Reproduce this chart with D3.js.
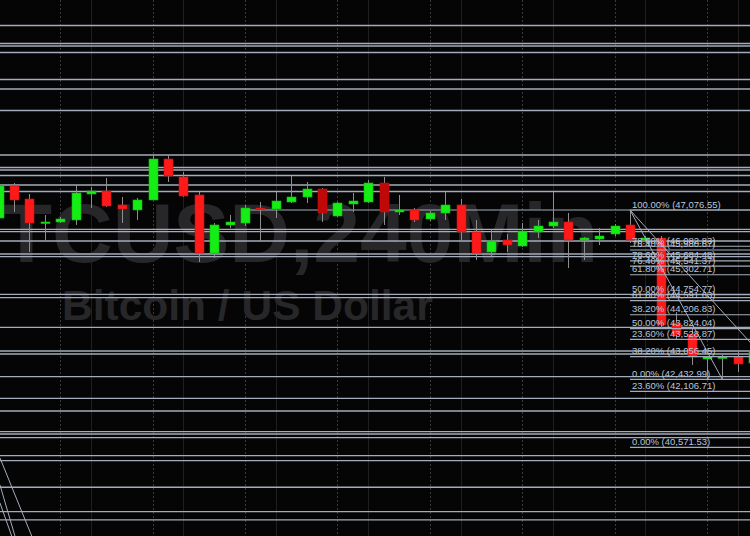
<!DOCTYPE html>
<html><head><meta charset="utf-8">
<script src="https://cdn.jsdelivr.net/npm/d3@7"></script>
<style>html,body{margin:0;padding:0;background:#050506;overflow:hidden}</style>
</head><body><svg id="c" width="750" height="536"></svg>
<script>
// ---- data (4h bars, BTCUSD) ----
const bars   = [1,2,3,4,5,6,7,8,9,10,11,12,13,14,15,16,17,18,19,20,21,22,23,24,25,26,27,28,29,30,31,32,33,34,35,36,37,38,39,40,41,42,43,44,45,46,47,48,49,50];
const opens  = [46857,47734,47378,46720,46748,46803,47515,47597,47214,47077,47351,48474,47981,47488,45898,46666,46720,47131,47104,47296,47433,47652,46912,47241,47296,47816,47022,47077,46830,46994,47214,46474,45926,46255,46090,46474,46638,46748,46255,46282,46419,46666,46255,46309,43980,43679,42994,43021,43049,42884];
const highs  = [47844,47816,47515,46940,46885,47762,47707,47953,47433,47405,48584,48584,48118,47570,46720,46940,47214,47296,47570,48008,47844,47679,47296,47542,47899,47981,47488,47131,47049,47570,47378,46803,46529,46419,46720,46803,47570,46994,46337,46583,46693,47076.55,46364,46364,44282,43871,43049,43104,43186,43295];
const lows   = [46748,47022,45926,46255,46720,46666,47131,47159,46720,46803,47351,47844,47433,45652,45761,46583,46638,46200,46857,47268,47268,46748,46885,47022,47268,46666,46940,46748,46775,46803,46255,45707,45816,45926,46063,46309,46583,45487,45707,46118,46364,46172,46200,43843,43515,42830,42432.99,42450,42638,42802];
const closes = [47734,47351,46720,46748,46830,47542,47597,47186,47104,47351,48474,48008,47460,45898,46666,46748,47131,47104,47323,47433,47652,46994,47268,47323,47816,47022,47077,46803,46994,47214,46474,45898,46227,46118,46501,46638,46748,46255,46309,46364,46638,46255,46309,43926,43652,43049,43060,43049,42857,43186];

// horizontal price lines across the chart
const priceLines = [52132,51639,51570,51392,50652,50392,49803,48584,48241,48173,48022,47762,47583,46548,46482,46227,45871,45797,44767,44674,43863,43213,43131,42509,41917,41569,41002,40939,40838,40344,40207,39479,38810,38583];
// partial horizontal line [start bar, price]
const partialLines = [[17, 47076.55]];

// Fibonacci retracements (high 47,076.55 at bar 42)
const fibHigh = 47076.55;
const fibALow = 42432.99, fibAStartBar = 42, fibAEndBar = 48;
const fibBLow = 40571.53, fibBEndBar = 56;
const fibRatios = [0.786, 0.764, 0.618, 0.5, 0.382, 0.236, 0];

// older trend-line segments [bar, price] -> [bar, price]
const oldSegments = [
  [[1.09,40281],[3.15,38144]],
  [[1.09,39541],[2.06,38144]],
  [[1.09,39048],[1.85,38144]]
];

const watermark1 = "BTCUSD,240Min";
const watermark2 = "Bitcoin / US Dollar";

// ---- drawing ----
const W = 750, H = 536;
const svg = d3.select("#c");
const x = d3.scaleLinear().domain([1, 50]).range([-1.4, 753.2]);
const y = d3.scaleLinear().domain([40571.53, 47076.55]).range([447.4, 210]);

svg.append("rect").attr("width", W).attr("height", H).attr("fill", "#050506");

// vertical grid (every 6 bars)
const gridDotted = d3.range(5, 51, 6), gridSolid = d3.range(7, 51, 6);
svg.append("g").selectAll("line").data(gridSolid).join("line")
  .attr("x1", d => Math.round(x(d)) + 0.5).attr("x2", d => Math.round(x(d)) + 0.5)
  .attr("y1", 0).attr("y2", H).attr("stroke", "#1f1f22").attr("stroke-width", 1);
svg.append("g").selectAll("line").data(gridDotted).join("line")
  .attr("x1", d => Math.round(x(d)) + 0.5).attr("x2", d => Math.round(x(d)) + 0.5)
  .attr("y1", 0).attr("y2", H).attr("stroke", "#3a3a3e").attr("stroke-width", 1)
  .attr("stroke-dasharray", "2,2");

// watermark
svg.append("text").attr("x", -60).attr("y", 262)
  .attr("font-family", "Liberation Sans, Arial, sans-serif").attr("font-weight", "bold")
  .attr("font-size", 84).attr("fill", "#272729").text(watermark1);
svg.append("text").attr("x", 62).attr("y", 320)
  .attr("font-family", "Liberation Sans, Arial, sans-serif").attr("font-weight", "bold")
  .attr("font-size", 42.5).attr("fill", "#272729").text(watermark2);

// horizontal price lines
svg.append("g").selectAll("line").data(priceLines).join("line")
  .attr("x1", 0).attr("x2", W)
  .attr("y1", d => y(d)).attr("y2", d => y(d))
  .attr("stroke", "#a3acba").attr("stroke-width", 1.3);
svg.append("g").selectAll("line").data(partialLines).join("line")
  .attr("x1", d => x(d[0])).attr("x2", W)
  .attr("y1", d => y(d[1])).attr("y2", d => y(d[1]))
  .attr("stroke", "#a3acba").attr("stroke-width", 1.2);

// old segments
svg.append("g").selectAll("line").data(oldSegments).join("line")
  .attr("x1", d => x(d[0][0])).attr("y1", d => y(d[0][1]))
  .attr("x2", d => x(d[1][0])).attr("y2", d => y(d[1][1]))
  .attr("stroke", "#a3acba").attr("stroke-width", 1);

// candles
const candles = bars.map((b, i) => ({b, o: opens[i], h: highs[i], l: lows[i], c: closes[i]}));
const darkRed = new Set([22, 26]);
const bw = 9;
const g = svg.append("g");
g.selectAll("line").data(candles).join("line")
  .attr("x1", d => Math.round(x(d.b)) + 0.5).attr("x2", d => Math.round(x(d.b)) + 0.5)
  .attr("y1", d => y(d.h)).attr("y2", d => y(d.l))
  .attr("stroke", "#8e8e8e").attr("stroke-width", 1);
g.selectAll("rect").data(candles).join("rect")
  .attr("x", d => Math.round(x(d.b)) - (bw - 1) / 2)
  .attr("width", bw)
  .attr("y", d => y(Math.max(d.o, d.c)))
  .attr("height", d => Math.max(1.5, Math.abs(y(d.o) - y(d.c))))
  .attr("fill", d => d.c >= d.o ? "#14ee14" : (darkRed.has(d.b) ? "#c00808" : "#ff1a1a"))
  .attr("stroke", d => d.c >= d.o ? "#0fb80f" : "#c81010").attr("stroke-width", 0.6);

// fibonacci objects
const fmt = d3.format(",.2f");
const fibLevels = [];
[[fibALow], [fibBLow]].forEach(([low]) => {
  fibRatios.forEach(r => fibLevels.push({r, p: low + r * (fibHigh - low)}));
});
fibLevels.push({r: 1, p: fibHigh});
const fg = svg.append("g");
const fx0 = x(fibAStartBar);
fg.selectAll("line.lv").data(fibLevels).join("line").attr("class", "lv")
  .attr("x1", fx0).attr("x2", W).attr("y1", d => y(d.p)).attr("y2", d => y(d.p))
  .attr("stroke", "#a3acba").attr("stroke-width", 1.2);
fg.selectAll("line.dg").data([[fibAEndBar, fibALow], [fibBEndBar, fibBLow]]).join("line").attr("class", "dg")
  .attr("x1", fx0).attr("y1", y(fibHigh))
  .attr("x2", d => x(d[0])).attr("y2", d => y(d[1]))
  .attr("stroke", "#a3acba").attr("stroke-width", 1);
fg.selectAll("text").data(fibLevels).join("text")
  .attr("x", fx0 + 2).attr("y", d => y(d.p) - 2.5)
  .attr("font-family", "Liberation Sans, Arial, sans-serif").attr("font-size", 9.5)
  .attr("fill", "#b9c6da")
  .text(d => d3.format(".2f")(d.r * 100) + "% (" + fmt(d.p) + ")");
</script></body></html>
